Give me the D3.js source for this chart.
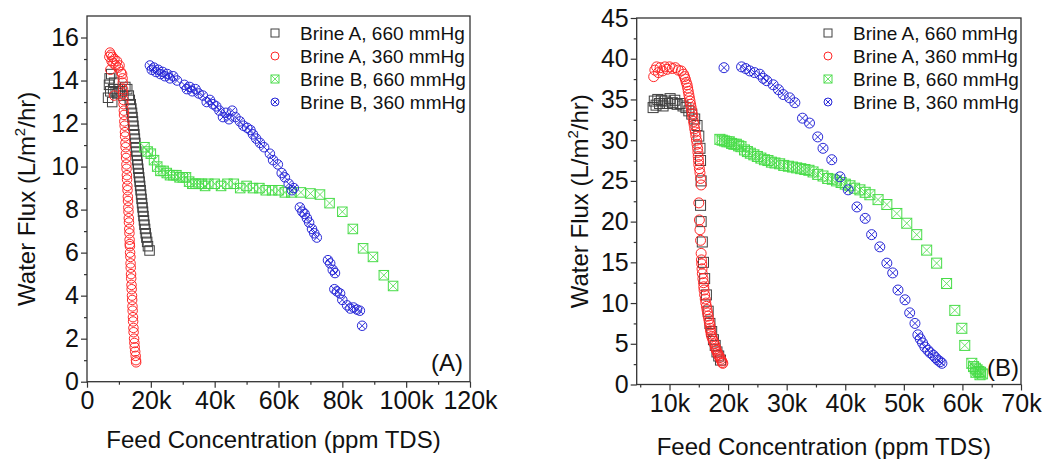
<!DOCTYPE html>
<html>
<head>
<meta charset="utf-8">
<script src="https://cdn.jsdelivr.net/npm/d3@7/dist/d3.min.js"></script>
<style>
  body { margin: 0; background: #fff; }
  svg { font-family: "Liberation Sans", Arial, sans-serif; }
</style>
</head>
<body>
<svg id="chart" width="1047" height="459"></svg>
<script>
// ---- data: [feed concentration (ppm TDS), water flux (L/m2/hr)] ----
const legendLabels = ["Brine A, 660 mmHg", "Brine A, 360 mmHg", "Brine B, 660 mmHg", "Brine B, 360 mmHg"]

// panel (A)
const aBrineA660 = [[6600,13.2],[6900,13.8],[7100,14.1],[7300,13.5],[7600,14.3],[7900,13.0],[8200,13.6],[8500,13.9],[9000,13.5],[9600,13.4],[10200,13.6],[10800,13.5],[11400,13.3],[12000,13.7],[12600,13.6],
  [13100,13.3],[13400,13.1],[13700,12.9],[13900,12.7],[14100,12.5],[14250,12.3],[14400,12.1],[14550,11.9],[14700,11.7],[14850,11.5],[15000,11.3],[15150,11.1],[15300,10.9],[15450,10.7],[15600,10.5],[15750,10.3],[15900,10.1],[16050,9.9],[16200,9.7],[16350,9.5],[16500,9.3],[16650,9.1],[16800,8.9],[16950,8.7],[17100,8.5],[17250,8.3],[17400,8.1],[17550,7.9],[17700,7.7],[17850,7.5],[18000,7.3],[18200,7.1],[18400,6.9],[18600,6.7],[18850,6.5],[19100,6.3],[19600,6.1]]
const aBrineA360 = [[7000,15.1],[7200,15.3],[7500,15.2],[7700,14.9],[8000,15.1],[8300,14.8],[8600,15.0],[9000,14.7],[9400,14.9],[9800,14.6],[10200,14.7],[10600,14.4],[7300,14.5],[8500,13.3],
  [11000,14.3],[11150,14.1],[11200,13.9],[11300,13.6],[11300,13.4],[11400,13.1],[11450,12.9],[11550,12.6],[11600,12.4],[11700,12.1],[11800,11.9],[11900,11.6],[11950,11.4],[12050,11.1],[12100,10.9],[12200,10.6],[12250,10.4],[12350,10.1],[12400,9.9],[12500,9.6],[12550,9.4],[12650,9.1],[12700,8.9],[12800,8.6],[12850,8.4],[12950,8.1],[13000,7.9],[13100,7.6],[13150,7.4],[13250,7.1],[13300,6.9],[13350,6.6],[13400,6.4],[13450,6.3],[13500,6.0],[13600,5.8],[13650,5.5],[13700,5.3],[13800,5.0],[13850,4.8],[13950,4.5],[14000,4.3],[14100,4.0],[14150,3.8],[14250,3.5],[14300,3.3],[14400,3.0],[14450,2.8],[14550,2.5],[14600,2.3],[14750,2.0],[14850,1.8],[14950,1.6],[15100,1.4],[15250,1.2],[15350,1.0],[15400,0.9]]
const aBrineB660 = [[18000,10.9],[19000,10.7],[20000,10.6],[21000,10.3],[22000,10.0],[23000,9.8],[24000,9.8],[25000,9.7],[26000,9.6],[27000,9.6],[28000,9.6],[29000,9.5],[30000,9.5],[31000,9.5],[32000,9.3],[33000,9.2],[34000,9.2],[35000,9.2],[36000,9.2],[37000,9.1],[38000,9.2],[40000,9.2],[42000,9.1],[44000,9.2],[46000,9.2],[48000,9.0],[50000,9.1],[52000,9.0],[54000,9.0],[56000,8.9],[58000,8.9],[60000,8.9],[62000,8.8],[64000,8.8],[67000,8.8],[70000,8.75],[73000,8.7],[76000,8.3],[80000,7.9],[83300,7.1],[86500,6.2],[89600,5.8],[93000,4.95],[95900,4.45]]
const aBrineB360 = [[19700,14.7],[20300,14.5],[21000,14.6],[21600,14.4],[22300,14.5],[23000,14.3],[23700,14.4],[24400,14.2],[25200,14.3],[26000,14.1],[27000,14.2],[28200,14.0],[30500,13.8],[31300,13.6],[32200,13.7],[33000,13.5],[34000,13.6],[35000,13.4],[36300,13.3],[37500,13.0],[38500,13.1],[39500,12.9],[40500,12.8],[41500,12.6],[42600,12.3],[43500,12.5],[44500,12.2],[45500,12.6],[46500,12.3],[47900,12.1],[49000,11.9],[50200,11.8],[51200,11.7],[52000,11.5],[53000,11.3],[54200,11.1],[55500,10.9],[57300,10.6],[58300,10.3],[59800,10.1],[61000,9.7],[62000,9.5],[63200,9.2],[64200,8.9],[64800,9.0],[66700,8.1],[67500,7.9],[68200,7.8],[68900,7.6],[69600,7.4],[70500,7.1],[71200,6.9],[72000,6.7],[75500,5.65],[76200,5.5],[77000,5.2],[77700,5.05],[77500,4.3],[78300,4.2],[79300,4.1],[80000,3.8],[81500,3.55],[82500,3.4],[83500,3.45],[84600,3.35],[85500,3.3],[86200,2.6]]

// panel (B)
const bBrineA660 = [[7200,34.0],[7400,34.8],[7700,34.3],[8000,35.0],[8300,34.5],[8600,34.9],[8900,34.2],[9300,34.8],[9700,34.5],[10100,35.1],[10500,34.6],[10900,34.9],[11300,34.4],[11800,34.5],[12300,34.2],[12800,34.0],[13300,33.6],[13800,33.2],[14300,32.6],[14700,31.8],[15000,30.5],[15200,29.0],[15300,27.5],[15400,25.0],[15300,22.0],[15400,20.0],[15600,17.5],[15800,15.0],[16000,13.0],[16300,11.0],[16600,9.0],[16900,7.5],[17200,6.5],[17500,5.5],[17800,4.8],[18100,4.0],[18400,3.5],[18700,3.0]]
const bBrineA360 = [[7300,37.8],[7500,38.6],[7800,39.0],[8100,38.3],[8400,38.9],[8800,38.5],[9200,39.0],[9600,38.7],[10000,39.0],[10500,38.8],[11000,38.9],[11500,38.6],[12000,38.5],[12400,38.1],
  [12550,37.8],[12700,37.5],[12850,37.1],[13000,36.8],[13100,36.4],[13200,36.0],[13300,35.6],[13400,35.2],[13500,34.8],[13600,34.4],[13700,34.0],[13800,33.6],[13900,33.2],[14000,32.8],[14100,32.3],[14200,31.9],[14300,31.4],[14400,31.0],[14500,30.5],[14600,30.0],[14700,29.5],[14800,29.0],[14850,28.5],[14900,28.0],[14950,27.5],[15000,27.0],[15100,26.5],[15200,26.0],[15300,25.3],[15400,24.5],
  [15000,22.3],[15100,20.2],[15200,19.0],[15300,17.7],[15400,16.1],[15450,15.3],[15500,14.8],[15550,14.2],[15600,13.6],[15700,13.0],[15800,12.5],[15850,12.0],[15900,11.6],[16000,11.0],[16100,10.5],[16200,10.0],[16300,9.6],[16400,9.2],[16500,8.8],[16600,8.4],[16700,8.0],[16800,7.6],[16900,7.3],[16950,6.9],[17000,6.6],[17100,6.2],[17200,5.9],[17350,5.6],[17500,5.3],[17650,5.0],[17800,4.7],[17900,4.4],[18000,4.2],[18150,3.9],[18300,3.7],[18450,3.5],[18600,3.3],[18750,3.1],[18900,2.9],[19000,2.7],[19100,2.6]]
const bBrineB660 = [[18600,30.1],[19000,30.0],[19400,29.9],[19800,29.8],[20200,29.8],[20600,29.6],[21000,29.5],[21400,29.5],[21800,29.3],[22200,29.2],[22800,28.8],[23300,28.6],[23800,28.4],[24400,28.2],[25000,28.0],[25600,27.8],[26200,27.6],[26800,27.5],[27400,27.3],[28000,27.2],[28800,27.1],[29500,26.9],[30300,26.8],[31000,26.7],[31700,26.6],[32400,26.5],[33100,26.4],[33800,26.3],[34500,26.1],[35300,25.8],[36200,25.6],[37000,25.3],[37800,25.2],[38500,25.0],[39300,24.8],[40000,24.6],[40800,24.4],[41600,24.1],[42500,23.9],[43400,23.6],[44200,23.3],[45600,22.7],[47100,22.1],[48800,21.0],[50500,19.8],[52200,18.4],[53900,16.5],[55600,14.9],[57300,12.4],[58700,9.1],[59900,6.9],[60400,4.8],[61600,2.6],[61900,2.2],[62200,2.0],[62500,1.8],[62800,1.6],[63100,1.5],[63400,1.3],[62300,1.5],[63000,1.2]]
const bBrineB360 = [[19300,38.9],[22300,39.0],[23000,38.8],[23700,38.5],[24500,38.3],[25400,38.1],[26000,37.6],[26600,37.3],[27700,36.8],[28600,36.2],[29400,35.6],[30500,35.2],[31400,34.6],[32700,32.7],[33900,32.1],[35300,30.4],[36200,29.0],[37700,27.6],[39100,25.5],[40500,23.9],[42000,21.8],[43400,20.4],[44500,18.4],[45900,16.9],[47100,14.9],[48100,13.7],[49000,11.6],[50200,10.4],[51000,8.8],[51900,7.5],[52400,6.1],[52800,5.6],[53200,5.1],[53600,4.6],[54100,4.2],[54500,3.9],[55000,3.6],[55400,3.3],[55800,3.0],[56200,2.8],[56500,2.6]]

const aXTicks = [0, 20000, 40000, 60000, 80000, 100000, 120000]
const aYTicks = [0, 2, 4, 6, 8, 10, 12, 14, 16]
const bXTicks = [10000, 20000, 30000, 40000, 50000, 60000, 70000]
const bYTicks = [0, 5, 10, 15, 20, 25, 30, 35, 40, 45]

// marker look per series (same order as legend)
const styles = [
  { shape: "square", color: "#404040" },
  { shape: "circle", color: "#ff2828" },
  { shape: "xsquare", color: "#48dc48" },
  { shape: "xcircle", color: "#2a2ad8" }
]

const svg = d3.select("#chart")

const kFormat = d => d === 0 ? "0" : (d / 1000) + "k"

function drawMarker(sel, shape, color, s) {
  const h = s / 2
  if (shape === "square" || shape === "xsquare") {
    sel.append("rect").attr("x", -h).attr("y", -h).attr("width", s).attr("height", s)
      .attr("fill", "none").attr("stroke", color).attr("stroke-width", 1)
    if (shape === "xsquare") {
      sel.append("path").attr("d", `M${-h},${-h}L${h},${h}M${h},${-h}L${-h},${h}`)
        .attr("stroke", color).attr("stroke-width", 0.8)
    }
  } else {
    sel.append("circle").attr("r", h).attr("fill", "none")
      .attr("stroke", color).attr("stroke-width", 1)
    if (shape === "xcircle") {
      const c = h * 0.7
      sel.append("path").attr("d", `M${-c},${-c}L${c},${c}M${c},${-c}L${-c},${c}`)
        .attr("stroke", color).attr("stroke-width", 1)
    }
  }
}

function panel(p) {
  const x = d3.scaleLinear().domain(p.xDomain).range([p.left, p.right])
  const y = d3.scaleLinear().domain(p.yDomain).range([p.bottom, p.top])
  const g = svg.append("g")

  // minor ticks
  g.append("g").attr("transform", `translate(0,${p.bottom})`)
    .call(d3.axisBottom(x).tickValues(p.xMinor).tickSize(3).tickFormat("").tickSizeOuter(0))
    .call(a => a.select(".domain").remove())
  g.append("g").attr("transform", `translate(${p.left},0)`)
    .call(d3.axisLeft(y).tickValues(p.yMinor).tickSize(3).tickFormat("").tickSizeOuter(0))
    .call(a => a.select(".domain").remove())

  // major ticks + labels
  const xa = g.append("g").attr("transform", `translate(0,${p.bottom})`)
    .call(d3.axisBottom(x).tickValues(p.xTicks).tickSize(6).tickPadding(4).tickFormat(kFormat).tickSizeOuter(0))
  const ya = g.append("g").attr("transform", `translate(${p.left},0)`)
    .call(d3.axisLeft(y).tickValues(p.yTicks).tickSize(6).tickPadding(2).tickSizeOuter(0))
  ;[xa, ya].forEach(a => {
    a.select(".domain").remove()
    a.selectAll("text").attr("font-size", 25).attr("fill", "#111")
      .attr("font-family", '"Liberation Sans", Arial, sans-serif')
  })
  g.selectAll(".tick line").attr("stroke", "#333").attr("stroke-width", 1.2)

  // frame
  g.append("rect").attr("x", p.left).attr("y", p.top)
    .attr("width", p.right - p.left).attr("height", p.bottom - p.top)
    .attr("fill", "none").attr("stroke", "#333").attr("stroke-width", 1.3)

  // data
  p.series.forEach((data, i) => {
    const st = styles[i]
    g.append("g").selectAll("g").data(data).join("g")
      .attr("transform", d => `translate(${x(d[0])},${y(d[1])})`)
      .each(function() { drawMarker(d3.select(this), st.shape, st.color, p.markerSize) })
  })

  // legend
  legendLabels.forEach((lab, i) => {
    const ly = p.legendY + i * 23
    const m = g.append("g").attr("transform", `translate(${p.legendX},${ly})`)
    drawMarker(m, styles[i].shape, styles[i].color, 8)
    g.append("text").attr("x", p.legendX + 25).attr("y", ly).attr("dy", "0.35em")
      .attr("font-size", 19).attr("fill", "#111").text(lab)
  })

  // panel tag
  g.append("text").attr("x", p.tagX).attr("y", p.tagY).attr("text-anchor", "end")
    .attr("font-size", 24).attr("fill", "#111").text(p.tag)

  // axis titles
  g.append("text").attr("x", (p.left + p.right) / 2 - 5).attr("y", p.xTitleY)
    .attr("text-anchor", "middle").attr("font-size", 24).attr("fill", "#111")
    .text("Feed Concentration (ppm TDS)")
  const yt = g.append("text")
    .attr("transform", `translate(${p.yTitleX},${(p.top + p.bottom) / 2}) rotate(-90)`)
    .attr("text-anchor", "middle").attr("font-size", 24).attr("fill", "#111")
  yt.append("tspan").text("Water Flux (L/m")
  yt.append("tspan").attr("font-size", 15).attr("dy", -10).text("2")
  yt.append("tspan").attr("dy", 10).text("/hr)")
}

panel({
  left: 87, right: 470, top: 16, bottom: 381.7,
  xDomain: [0, 120000], yDomain: [0, 17],
  xTicks: aXTicks, yTicks: aYTicks,
  xMinor: [10000, 30000, 50000, 70000, 90000, 110000],
  yMinor: [1, 3, 5, 7, 9, 11, 13, 15],
  series: [aBrineA660, aBrineA360, aBrineB660, aBrineB360],
  markerSize: 9.5,
  legendX: 275, legendY: 33,
  tag: "(A)", tagX: 463, tagY: 371,
  xTitleY: 448, yTitleX: 35
})

panel({
  left: 636.7, right: 1021, top: 18, bottom: 384.5,
  xDomain: [4400, 70000], yDomain: [0, 45],
  xTicks: bXTicks, yTicks: bYTicks,
  xMinor: [5000, 15000, 25000, 35000, 45000, 55000, 65000],
  yMinor: [2.5, 7.5, 12.5, 17.5, 22.5, 27.5, 32.5, 37.5, 42.5],
  series: [bBrineA660, bBrineA360, bBrineB660, bBrineB360],
  markerSize: 10,
  legendX: 828, legendY: 33,
  tag: "(B)", tagX: 1019, tagY: 376,
  xTitleY: 455, yTitleX: 588
})
</script>
</body>
</html>
